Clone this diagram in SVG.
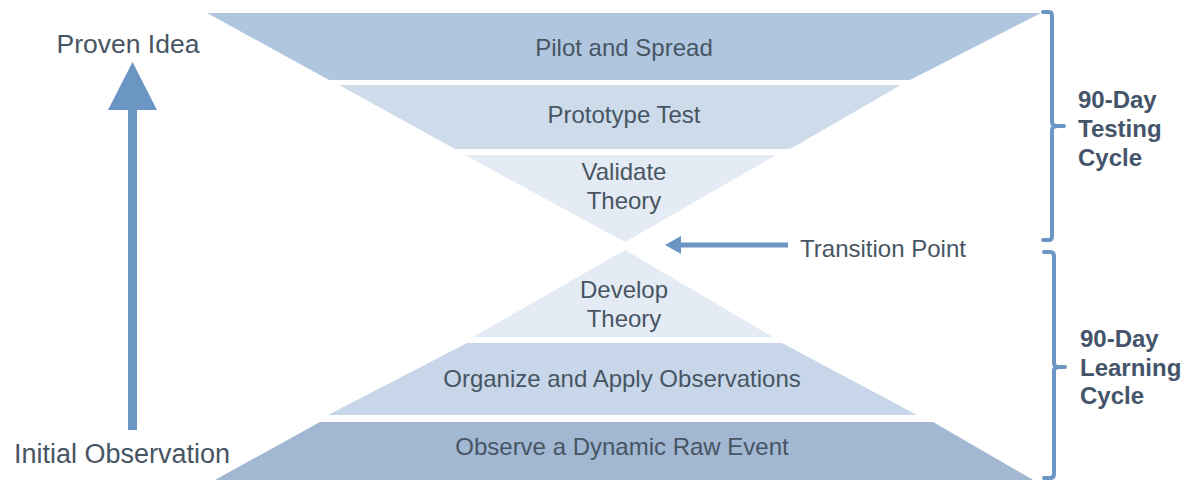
<svg xmlns="http://www.w3.org/2000/svg" width="1197" height="480" viewBox="0 0 1197 480">
<style>
.t{font-family:"Liberation Sans",Arial,sans-serif;font-size:24px;fill:#475563;text-anchor:middle}
.b{font-family:"Liberation Sans",Arial,sans-serif;font-size:24px;font-weight:bold;fill:#44546a}
.br{fill:none;stroke:#6c96c4;stroke-width:4;stroke-linecap:round;stroke-linejoin:round}
</style>
<rect width="1197" height="480" fill="#ffffff"/>
<g id="pilot">
<polygon points="207,13 1041,13 910,80 329,80" fill="#b0c6df"/>
<text class="t" x="624" y="56">Pilot and Spread</text>
</g>
<g id="prototype">
<polygon points="339,85 901,85 790,149 455,149" fill="#cddbea"/>
<text class="t" x="624" y="123">Prototype Test</text>
</g>
<g id="validate">
<polygon points="465,155 776,155 625,242" fill="#e4ebf4"/>
<text class="t" x="624" y="180">Validate</text>
<text class="t" x="624" y="209">Theory</text>
</g>
<g id="develop">
<polygon points="625,250 773,337 473,337" fill="#e4ebf4"/>
<text class="t" x="624" y="298">Develop</text>
<text class="t" x="624" y="327">Theory</text>
</g>
<g id="organize">
<polygon points="467,343 782,343 917,415 328,415" fill="#c7d7e9"/>
<text class="t" x="622" y="387">Organize and Apply Observations</text>
</g>
<g id="observe">
<polygon points="320,422 933,422 1035,481 213,481" fill="#a2b7d2"/>
<text class="t" x="622" y="455">Observe a Dynamic Raw Event</text>
</g>
<g id="labels">
<text class="t" x="128" y="53" style="font-size:26.5px">Proven Idea</text>
<text class="t" x="122" y="463" style="font-size:27px">Initial Observation</text>
<text class="t" x="883" y="257">Transition Point</text>
</g>
<g id="testing-cycle">
<path class="br" d="M1043,12 L1049,12 Q1052,12 1052,16 L1052,122 Q1052,126 1058,126 L1064,126 M1058,126 Q1052,126 1052,130 L1052,236 Q1052,240 1049,240 L1043,240"/>
<text class="b" x="1078" y="108">90-Day</text>
<text class="b" x="1078" y="137">Testing</text>
<text class="b" x="1078" y="166">Cycle</text>
</g>
<g id="learning-cycle">
<path class="br" d="M1044,252 L1050,252 Q1054,252 1054,256 L1054,363 Q1054,367 1059,367 L1065,367 M1059,367 Q1054,367 1054,371 L1054,474 Q1054,478 1050,478 L1044,478"/>
<text class="b" x="1080" y="347">90-Day</text>
<text class="b" x="1080" y="376">Learning</text>
<text class="b" x="1080" y="404">Cycle</text>
</g>
<g id="connectors">
<rect x="128" y="108" width="9" height="322" fill="#6b96c3"/>
<polygon points="108,110 157,110 132.5,62" fill="#6b96c3"/>
<rect x="678" y="242.5" width="110" height="5" fill="#6b96c3"/>
<polygon points="665,245 681,236 681,254" fill="#6b96c3"/>
</g>
</svg>
